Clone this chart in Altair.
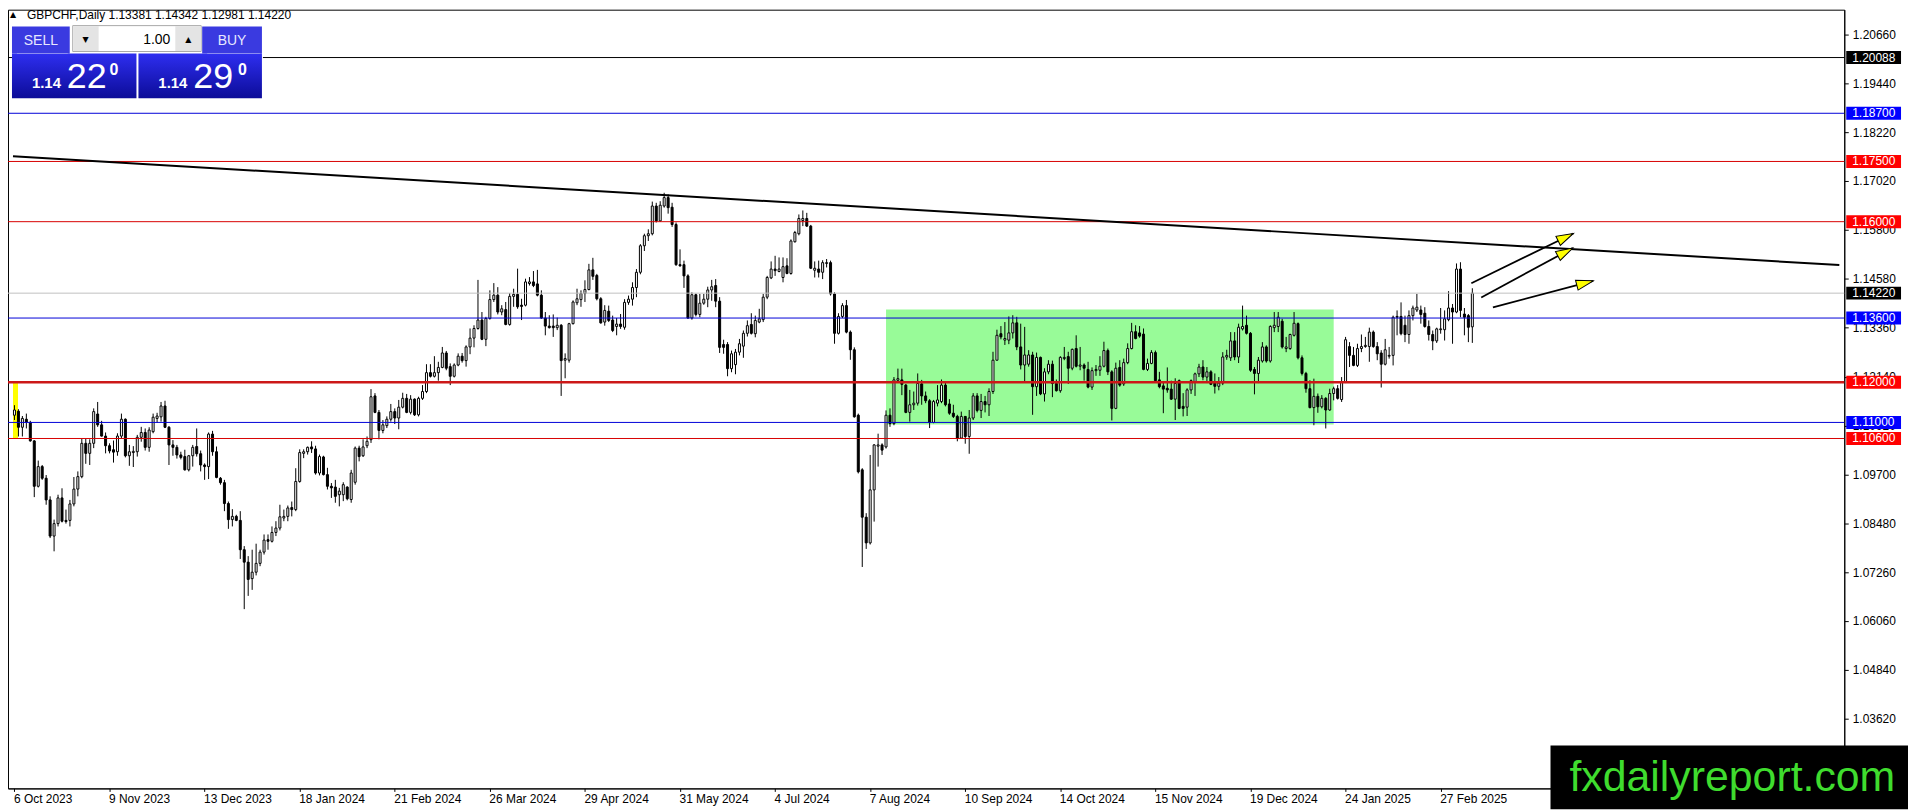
import json
import math
import pandas as pd
import altair as alt

# ---------------- data ----------------
symbol = "GBPCHF"
period = "Daily"

opens = [
    1.1118, 1.1128, 1.1088, 1.1108, 1.1100, 1.1054, 1.0941, 1.0990, 1.0961, 1.0907,
    1.0817, 1.0848, 1.0912, 1.0856, 1.0856, 1.0897, 1.0934, 1.0965, 1.1048, 1.1023,
    1.1048, 1.1121, 1.1094, 1.1066, 1.1042, 1.1032, 1.1027, 1.1066, 1.1108, 1.1017,
    1.1025, 1.1027, 1.1063, 1.1075, 1.1038, 1.1077, 1.1110, 1.1114, 1.1141, 1.1088,
    1.1044, 1.1038, 1.1019, 1.1015, 1.0982, 1.1017, 1.1040, 1.1022, 1.0994, 1.0990,
    1.1071, 1.1027, 1.0961, 1.0950, 1.0898, 1.0858, 1.0866, 1.0856, 1.0783, 1.0752,
    1.0711, 1.0727, 1.0749, 1.0777, 1.0808, 1.0804, 1.0826, 1.0837, 1.0862, 1.0866,
    1.0888, 1.0883, 1.0953, 1.1023, 1.1027, 1.1039, 1.1034, 1.0974, 1.1014, 1.0970,
    1.0941, 1.0939, 1.0920, 1.0920, 1.0939, 1.0908, 1.0951, 1.1036, 1.1017, 1.1042,
    1.1057, 1.1166, 1.1125, 1.1080, 1.1092, 1.1108, 1.1127, 1.1111, 1.1138, 1.1160,
    1.1125, 1.1158, 1.1119, 1.1160, 1.1177, 1.1224, 1.1215, 1.1224, 1.1237, 1.1273,
    1.1239, 1.1215, 1.1243, 1.1265, 1.1254, 1.1288, 1.1310, 1.1334, 1.1355, 1.1307,
    1.1359, 1.1406, 1.1417, 1.1375, 1.1381, 1.1344, 1.1414, 1.1419, 1.1392, 1.1392,
    1.1446, 1.1450, 1.1445, 1.1417, 1.1360, 1.1340, 1.1340, 1.1336, 1.1342, 1.1255,
    1.1255, 1.1346, 1.1398, 1.1406, 1.1421, 1.1431, 1.1480, 1.1466, 1.1408, 1.1350,
    1.1377, 1.1355, 1.1339, 1.1345, 1.1337, 1.1399, 1.1407, 1.1436, 1.1474, 1.1540,
    1.1565, 1.1570, 1.1639, 1.1602, 1.1639, 1.1660, 1.1636, 1.1593, 1.1493, 1.1493,
    1.1465, 1.1360, 1.1418, 1.1369, 1.1397, 1.1407, 1.1430, 1.1441, 1.1402, 1.1294,
    1.1294, 1.1234, 1.1244, 1.1275, 1.1290, 1.1322, 1.1344, 1.1321, 1.1350, 1.1356,
    1.1412, 1.1460, 1.1482, 1.1476, 1.1461, 1.1490, 1.1471, 1.1550, 1.1570, 1.1603,
    1.1608, 1.1589, 1.1479, 1.1482, 1.1474, 1.1496, 1.1498, 1.1420, 1.1322, 1.1364,
    1.1391, 1.1325, 1.1281, 1.1118, 1.0982, 1.0864, 1.0800, 1.0932, 1.1041, 1.1044,
    1.1039, 1.1118, 1.1097, 1.1205, 1.1206, 1.1193, 1.1125, 1.1144, 1.1148, 1.1196,
    1.1166, 1.1154, 1.1100, 1.1148, 1.1152, 1.1193, 1.1146, 1.1123, 1.1115, 1.1061,
    1.1115, 1.1065, 1.1111, 1.1166, 1.1130, 1.1152, 1.1144, 1.1177, 1.1255, 1.1321,
    1.1305, 1.1305, 1.1323, 1.1348, 1.1288, 1.1243, 1.1245, 1.1268, 1.1189, 1.1262,
    1.1171, 1.1226, 1.1245, 1.1197, 1.1179, 1.1259, 1.1264, 1.1235, 1.1284, 1.1240,
    1.1243, 1.1232, 1.1188, 1.1229, 1.1230, 1.1240, 1.1279, 1.1226, 1.1135, 1.1237,
    1.1196, 1.1249, 1.1284, 1.1326, 1.1323, 1.1320, 1.1232, 1.1247, 1.1274, 1.1206,
    1.1191, 1.1185, 1.1183, 1.1158, 1.1204, 1.1140, 1.1138, 1.1181, 1.1202, 1.1221,
    1.1238, 1.1213, 1.1226, 1.1198, 1.1190, 1.1198, 1.1263, 1.1261, 1.1303, 1.1263,
    1.1333, 1.1342, 1.1322, 1.1232, 1.1222, 1.1253, 1.1288, 1.1253, 1.1336, 1.1339,
    1.1352, 1.1284, 1.1284, 1.1317, 1.1346, 1.1261, 1.1222, 1.1184, 1.1137, 1.1165,
    1.1139, 1.1160, 1.1131, 1.1172, 1.1184, 1.1157, 1.1201, 1.1289, 1.1267, 1.1242,
    1.1284, 1.1289, 1.1289, 1.1325, 1.1289, 1.1273, 1.1245, 1.1265, 1.1267, 1.1362,
    1.1364, 1.1342, 1.1319, 1.1366, 1.1380, 1.1380, 1.1372, 1.1339, 1.1319, 1.1303,
    1.1331, 1.1331, 1.1356, 1.1385, 1.1375, 1.1482, 1.1370, 1.1366, 1.13381,
]

highs = [
    1.1143, 1.1133, 1.1116, 1.1122, 1.1104, 1.1056, 1.1005, 1.0994, 1.0969, 1.0916,
    1.0858, 1.0920, 1.0936, 1.0883, 1.0907, 1.0964, 1.0978, 1.1060, 1.1059, 1.1058,
    1.1135, 1.1151, 1.1104, 1.1075, 1.1048, 1.1055, 1.1073, 1.1122, 1.1110, 1.1044,
    1.1041, 1.1069, 1.1089, 1.1085, 1.1088, 1.1122, 1.1124, 1.1151, 1.1154, 1.1091,
    1.1056, 1.1044, 1.1027, 1.1032, 1.1019, 1.1044, 1.1085, 1.1030, 1.0998, 1.1075,
    1.1079, 1.1040, 1.0964, 1.0957, 1.0903, 1.0884, 1.0870, 1.0879, 1.0792, 1.0767,
    1.0783, 1.0798, 1.0783, 1.0821, 1.0821, 1.0841, 1.0854, 1.0895, 1.0883, 1.0893,
    1.0903, 1.0986, 1.1033, 1.1033, 1.1040, 1.1053, 1.1042, 1.1020, 1.1017, 1.0987,
    1.0949, 1.0957, 1.0937, 1.0951, 1.0941, 1.0982, 1.1040, 1.1042, 1.1058, 1.1065,
    1.1183, 1.1173, 1.1131, 1.1106, 1.1115, 1.1146, 1.1135, 1.1156, 1.1174, 1.1171,
    1.1168, 1.1160, 1.1164, 1.1193, 1.1245, 1.1245, 1.1265, 1.1251, 1.1288, 1.1278,
    1.1247, 1.1247, 1.1272, 1.1273, 1.1292, 1.1334, 1.1342, 1.1455, 1.1375, 1.1363,
    1.1429, 1.1447, 1.1437, 1.1392, 1.1400, 1.1422, 1.1433, 1.1483, 1.1408, 1.1458,
    1.1462, 1.1477, 1.1480, 1.1429, 1.1375, 1.1367, 1.1369, 1.1361, 1.1345, 1.1272,
    1.1348, 1.1404, 1.1433, 1.1429, 1.1454, 1.1495, 1.1510, 1.1470, 1.1412, 1.1392,
    1.1391, 1.1366, 1.1360, 1.1370, 1.1407, 1.1416, 1.1449, 1.1482, 1.1544, 1.1570,
    1.1581, 1.1650, 1.1647, 1.1651, 1.1672, 1.1668, 1.1647, 1.1598, 1.1531, 1.1503,
    1.1469, 1.1424, 1.1421, 1.1420, 1.1420, 1.1438, 1.1455, 1.1457, 1.1412, 1.1306,
    1.1300, 1.1279, 1.1283, 1.1308, 1.1329, 1.1354, 1.1372, 1.1366, 1.1383, 1.1420,
    1.1465, 1.1501, 1.1515, 1.1511, 1.1511, 1.1509, 1.1556, 1.1577, 1.1618, 1.1628,
    1.1622, 1.1592, 1.1501, 1.1503, 1.1504, 1.1507, 1.1503, 1.1424, 1.1372, 1.1397,
    1.1405, 1.1329, 1.1287, 1.1122, 1.0986, 1.0874, 1.1019, 1.1046, 1.1072, 1.1048,
    1.1130, 1.1135, 1.1213, 1.1234, 1.1234, 1.1196, 1.1181, 1.1177, 1.1222, 1.1206,
    1.1177, 1.1158, 1.1156, 1.1193, 1.1207, 1.1202, 1.1158, 1.1144, 1.1119, 1.1127,
    1.1116, 1.1131, 1.1173, 1.1173, 1.1171, 1.1166, 1.1185, 1.1276, 1.1331, 1.1340,
    1.1350, 1.1364, 1.1367, 1.1363, 1.1346, 1.1338, 1.1280, 1.1276, 1.1274, 1.1264,
    1.1235, 1.1255, 1.1254, 1.1207, 1.1265, 1.1288, 1.1276, 1.1284, 1.1317, 1.1288,
    1.1247, 1.1251, 1.1237, 1.1243, 1.1265, 1.1301, 1.1284, 1.1230, 1.1249, 1.1255,
    1.1259, 1.1297, 1.1348, 1.1342, 1.1340, 1.1334, 1.1259, 1.1280, 1.1279, 1.1226,
    1.1199, 1.1237, 1.1204, 1.1210, 1.1207, 1.1173, 1.1185, 1.1207, 1.1224, 1.1246,
    1.1255, 1.1238, 1.1230, 1.1222, 1.1213, 1.1275, 1.1281, 1.1325, 1.1325, 1.1346,
    1.1391, 1.1366, 1.1325, 1.1238, 1.1263, 1.1300, 1.1292, 1.1342, 1.1375, 1.1375,
    1.1358, 1.1313, 1.1321, 1.1375, 1.1349, 1.1267, 1.1226, 1.1205, 1.1209, 1.1172,
    1.1168, 1.1163, 1.1184, 1.1189, 1.1193, 1.1213, 1.1313, 1.1300, 1.1288, 1.1296,
    1.1319, 1.1313, 1.1336, 1.1329, 1.1300, 1.1280, 1.1308, 1.1288, 1.1366, 1.1379,
    1.1399, 1.1366, 1.1379, 1.1391, 1.1420, 1.1391, 1.1387, 1.1354, 1.1329, 1.1336,
    1.1385, 1.1379, 1.1427, 1.1395, 1.1496, 1.1499, 1.1385, 1.1370, 1.14342,
]

lows = [
    1.1106, 1.1065, 1.1065, 1.1085, 1.1052, 1.0914, 1.0938, 1.0957, 1.0895, 1.0812,
    1.0779, 1.0841, 1.0851, 1.0848, 1.0841, 1.0891, 1.0916, 1.0961, 1.0997, 1.0994,
    1.1036, 1.1089, 1.1065, 1.1023, 1.1023, 1.1000, 1.1017, 1.1060, 1.1013, 1.0992,
    1.0989, 1.1015, 1.1052, 1.1030, 1.1027, 1.1073, 1.1099, 1.1102, 1.1086, 1.0994,
    1.1017, 1.1010, 1.1008, 1.0980, 1.0978, 1.0990, 1.1015, 1.0978, 1.0957, 1.0959,
    1.1017, 1.0961, 1.0945, 1.0879, 1.0835, 1.0841, 1.0854, 1.0760, 1.0635, 1.0668,
    1.0683, 1.0719, 1.0742, 1.0771, 1.0783, 1.0801, 1.0817, 1.0831, 1.0854, 1.0854,
    1.0866, 1.0879, 1.0950, 1.1011, 1.1020, 1.1024, 1.0970, 1.0968, 1.0968, 1.0933,
    1.0912, 1.0900, 1.0891, 1.0904, 1.0906, 1.0900, 1.0945, 1.1003, 1.1014, 1.1036,
    1.1049, 1.1123, 1.1058, 1.1073, 1.1086, 1.1102, 1.1096, 1.1083, 1.1135, 1.1123,
    1.1120, 1.1116, 1.1115, 1.1156, 1.1173, 1.1212, 1.1212, 1.1204, 1.1235, 1.1230,
    1.1193, 1.1212, 1.1240, 1.1249, 1.1239, 1.1270, 1.1287, 1.1331, 1.1305, 1.1290,
    1.1356, 1.1400, 1.1369, 1.1367, 1.1342, 1.1341, 1.1388, 1.1383, 1.1355, 1.1389,
    1.1441, 1.1437, 1.1414, 1.1358, 1.1317, 1.1334, 1.1313, 1.1330, 1.1166, 1.1210,
    1.1249, 1.1344, 1.1392, 1.1388, 1.1400, 1.1429, 1.1455, 1.1404, 1.1346, 1.1341,
    1.1350, 1.1325, 1.1317, 1.1333, 1.1331, 1.1393, 1.1391, 1.1412, 1.1469, 1.1527,
    1.1552, 1.1566, 1.1598, 1.1600, 1.1635, 1.1620, 1.1587, 1.1490, 1.1488, 1.1435,
    1.1358, 1.1356, 1.1364, 1.1362, 1.1393, 1.1387, 1.1403, 1.1387, 1.1273, 1.1271,
    1.1215, 1.1225, 1.1220, 1.1267, 1.1261, 1.1314, 1.1319, 1.1312, 1.1347, 1.1350,
    1.1407, 1.1457, 1.1465, 1.1474, 1.1449, 1.1469, 1.1468, 1.1548, 1.1566, 1.1589,
    1.1587, 1.1482, 1.1461, 1.1461, 1.1457, 1.1486, 1.1416, 1.1296, 1.1319, 1.1360,
    1.1322, 1.1256, 1.1112, 1.0973, 1.0740, 1.0785, 1.0796, 1.0853, 1.0990, 1.1019,
    1.1035, 1.1089, 1.1093, 1.1201, 1.1168, 1.1123, 1.1102, 1.1131, 1.1142, 1.1144,
    1.1148, 1.1086, 1.1098, 1.1140, 1.1148, 1.1140, 1.1119, 1.1111, 1.1053, 1.1059,
    1.1047, 1.1022, 1.1106, 1.1125, 1.1111, 1.1125, 1.1116, 1.1171, 1.1254, 1.1307,
    1.1293, 1.1295, 1.1309, 1.1280, 1.1232, 1.1202, 1.1239, 1.1119, 1.1166, 1.1168,
    1.1152, 1.1220, 1.1163, 1.1177, 1.1174, 1.1255, 1.1196, 1.1230, 1.1237, 1.1230,
    1.1204, 1.1185, 1.1181, 1.1216, 1.1216, 1.1237, 1.1218, 1.1105, 1.1133, 1.1189,
    1.1191, 1.1245, 1.1282, 1.1307, 1.1311, 1.1230, 1.1228, 1.1245, 1.1202, 1.1185,
    1.1123, 1.1174, 1.1156, 1.1106, 1.1133, 1.1115, 1.1116, 1.1171, 1.1166, 1.1213,
    1.1205, 1.1198, 1.1193, 1.1172, 1.1180, 1.1193, 1.1256, 1.1253, 1.1255, 1.1248,
    1.1329, 1.1319, 1.1226, 1.1170, 1.1198, 1.1249, 1.1249, 1.1249, 1.1325, 1.1325,
    1.1284, 1.1275, 1.1281, 1.1314, 1.1257, 1.1217, 1.1174, 1.1135, 1.1093, 1.1124,
    1.1135, 1.1085, 1.1129, 1.1155, 1.1157, 1.1151, 1.1198, 1.1238, 1.1240, 1.1238,
    1.1275, 1.1286, 1.1251, 1.1286, 1.1255, 1.1187, 1.1242, 1.1259, 1.1242, 1.1317,
    1.1317, 1.1300, 1.1296, 1.1354, 1.1375, 1.1346, 1.1336, 1.1304, 1.1280, 1.1298,
    1.1321, 1.1304, 1.1352, 1.1296, 1.1372, 1.1362, 1.1317, 1.1300, 1.12981,
]

closes = [
    1.1131, 1.1088, 1.1110, 1.1101, 1.1054, 1.0941, 1.0990, 1.0961, 1.0907, 1.0817,
    1.0848, 1.0912, 1.0854, 1.0853, 1.0897, 1.0934, 1.0965, 1.1048, 1.1023, 1.1048,
    1.1127, 1.1094, 1.1066, 1.1042, 1.1029, 1.1026, 1.1066, 1.1108, 1.1017, 1.1027,
    1.1028, 1.1063, 1.1075, 1.1038, 1.1081, 1.1113, 1.1116, 1.1141, 1.1088, 1.1044,
    1.1038, 1.1019, 1.1013, 1.0982, 1.1017, 1.1038, 1.1022, 1.0994, 1.0990, 1.1071,
    1.1027, 1.0963, 1.0950, 1.0898, 1.0858, 1.0866, 1.0856, 1.0783, 1.0752, 1.0709,
    1.0727, 1.0749, 1.0777, 1.0807, 1.0804, 1.0826, 1.0837, 1.0865, 1.0866, 1.0887,
    1.0883, 1.0953, 1.1025, 1.1027, 1.1038, 1.1034, 1.0974, 1.1015, 1.0970, 1.0941,
    1.0937, 1.0916, 1.0929, 1.0945, 1.0910, 1.0974, 1.1036, 1.1015, 1.1039, 1.1053,
    1.1164, 1.1125, 1.1080, 1.1094, 1.1108, 1.1127, 1.1111, 1.1138, 1.1160, 1.1125,
    1.1158, 1.1119, 1.1160, 1.1177, 1.1224, 1.1215, 1.1224, 1.1237, 1.1273, 1.1235,
    1.1215, 1.1243, 1.1265, 1.1254, 1.1288, 1.1310, 1.1334, 1.1355, 1.1307, 1.1359,
    1.1406, 1.1417, 1.1375, 1.1383, 1.1344, 1.1414, 1.1419, 1.1388, 1.1389, 1.1450,
    1.1450, 1.1441, 1.1417, 1.1360, 1.1340, 1.1336, 1.1336, 1.1342, 1.1254, 1.1259,
    1.1346, 1.1400, 1.1408, 1.1421, 1.1431, 1.1480, 1.1464, 1.1408, 1.1348, 1.1379,
    1.1354, 1.1329, 1.1345, 1.1339, 1.1399, 1.1407, 1.1436, 1.1474, 1.1540, 1.1565,
    1.1570, 1.1639, 1.1602, 1.1641, 1.1660, 1.1635, 1.1593, 1.1493, 1.1490, 1.1465,
    1.1360, 1.1418, 1.1369, 1.1397, 1.1407, 1.1430, 1.1438, 1.1402, 1.1287, 1.1287,
    1.1234, 1.1271, 1.1275, 1.1296, 1.1322, 1.1341, 1.1322, 1.1354, 1.1358, 1.1412,
    1.1461, 1.1482, 1.1478, 1.1482, 1.1488, 1.1471, 1.1552, 1.1573, 1.1608, 1.1608,
    1.1589, 1.1484, 1.1484, 1.1474, 1.1498, 1.1498, 1.1420, 1.1322, 1.1364, 1.1391,
    1.1325, 1.1281, 1.1114, 1.0977, 1.0864, 1.0800, 1.0932, 1.1044, 1.1044, 1.1031,
    1.1118, 1.1097, 1.1206, 1.1209, 1.1195, 1.1125, 1.1144, 1.1148, 1.1197, 1.1166,
    1.1154, 1.1100, 1.1152, 1.1156, 1.1193, 1.1144, 1.1123, 1.1115, 1.1061, 1.1115,
    1.1065, 1.1111, 1.1166, 1.1130, 1.1152, 1.1144, 1.1177, 1.1255, 1.1317, 1.1313,
    1.1309, 1.1323, 1.1348, 1.1288, 1.1243, 1.1268, 1.1268, 1.1189, 1.1262, 1.1171,
    1.1226, 1.1245, 1.1197, 1.1179, 1.1262, 1.1262, 1.1235, 1.1282, 1.1240, 1.1243,
    1.1235, 1.1188, 1.1229, 1.1232, 1.1240, 1.1279, 1.1226, 1.1135, 1.1235, 1.1193,
    1.1249, 1.1284, 1.1326, 1.1309, 1.1315, 1.1232, 1.1247, 1.1274, 1.1204, 1.1189,
    1.1183, 1.1181, 1.1158, 1.1197, 1.1135, 1.1135, 1.1181, 1.1204, 1.1221, 1.1238,
    1.1213, 1.1226, 1.1195, 1.1190, 1.1198, 1.1263, 1.1267, 1.1303, 1.1263, 1.1337,
    1.1339, 1.1322, 1.1230, 1.1222, 1.1255, 1.1288, 1.1253, 1.1339, 1.1342, 1.1362,
    1.1288, 1.1288, 1.1319, 1.1347, 1.1261, 1.1222, 1.1184, 1.1137, 1.1165, 1.1139,
    1.1160, 1.1131, 1.1172, 1.1184, 1.1160, 1.1201, 1.1306, 1.1267, 1.1242, 1.1284,
    1.1289, 1.1292, 1.1325, 1.1289, 1.1271, 1.1245, 1.1281, 1.1267, 1.1362, 1.1364,
    1.1321, 1.1319, 1.1366, 1.1385, 1.1387, 1.1369, 1.1339, 1.1319, 1.1303, 1.1333,
    1.1333, 1.1358, 1.1385, 1.1375, 1.1482, 1.1379, 1.1362, 1.1337, 1.14220,
]

date_labels = [
    "6 Oct 2023", "9 Nov 2023", "13 Dec 2023", "18 Jan 2024", "21 Feb 2024",
    "26 Mar 2024", "29 Apr 2024", "31 May 2024", "4 Jul 2024", "7 Aug 2024",
    "10 Sep 2024", "14 Oct 2024", "15 Nov 2024", "19 Dec 2024", "24 Jan 2025",
    "27 Feb 2025",
]
label_every = 24

y_ticks = [1.2066, 1.1944, 1.1822, 1.1702, 1.1580, 1.1458, 1.1336, 1.1214,
           1.1092, 1.0970, 1.0848, 1.0726, 1.0606, 1.0484, 1.0362]

levels = [1.20088, 1.18700, 1.17500, 1.16000, 1.14220, 1.13600, 1.12000, 1.11000, 1.10600]
level_kind = ["black", "blue", "red", "red", "price", "blue", "redthick", "blue", "red"]

trend_x = [-0.375, 460.625]
trend_y = [1.1763, 1.1492]

zone_x = [220.0, 333.0]
zone_y = [1.1095, 1.1381]

marker_x = [-0.375, 0.9]
marker_y = [1.1060, 1.1200]

arrow_x0 = [367.75, 370.25, 373.2]
arrow_y0 = [1.14467, 1.14113, 1.13865]
arrow_x1 = [393.5, 393.35, 398.5]
arrow_y1 = [1.15707, 1.15345, 1.14527]

bid = 1.14220
ask = 1.14290
lot = "1.00"
watermark = "fxdailyreport.com"

# ---------------- styling ----------------
FONT = "Liberation Sans"
W, H = 1844, 782
X_DOMAIN = [-0.375, 460.625]
Y_DOMAIN = [1.018852, 1.212800]
PX_X = W / (X_DOMAIN[1] - X_DOMAIN[0])
PX_Y = H / (Y_DOMAIN[1] - Y_DOMAIN[0])

line_style = {
    "black": ("#000000", 1.0, "#000000"),
    "blue": ("#0000d8", 1.0, "#0000ff"),
    "red": ("#d80000", 1.0, "#ff0000"),
    "redthick": ("#cc1818", 2.5, "#ff0000"),
    "price": ("#c0c0c0", 1.0, "#000000"),
}

xs = alt.Scale(domain=X_DOMAIN, nice=False, zero=False)
ys = alt.Scale(domain=Y_DOMAIN, nice=False, zero=False)

label_expr = f"{json.dumps(date_labels)}[round(datum.value / {label_every})]"
xaxis = alt.Axis(
    values=list(range(0, len(opens), label_every)), labelExpr=label_expr,
    orient="bottom", labelAlign="left", labelFont=FONT, labelFontSize=12,
    labelColor="black", tickColor="black", tickSize=3, labelPadding=2,
    domainColor="black", grid=False, title=None, labelFlush=False,
    labelOverlap=False, labelOffset=-1, labelBound=False,
)
yaxis = alt.Axis(
    orient="right", values=y_ticks, format=".5f", labelFont=FONT,
    labelFontSize=12, labelColor="black", tickColor="black", tickSize=4,
    labelPadding=4, domainColor="black", grid=False, title=None,
    labelOverlap=False, labelBaseline="middle",
)


def X(f):
    return alt.X(f"{f}:Q", scale=xs, axis=xaxis)


def Y(f):
    return alt.Y(f"{f}:Q", scale=ys, axis=yaxis)


ONE = pd.DataFrame({"k": [0]})

layers = []

# zone rectangle & left marker
zone = pd.DataFrame({"x1": [zone_x[0]], "x2": [zone_x[1]], "y1": [zone_y[0]], "y2": [zone_y[1]]})
layers.append(alt.Chart(zone).mark_rect(color="#98fb98", opacity=1).encode(
    x=X("x1"), x2=alt.X2("x2"), y=Y("y1"), y2=alt.Y2("y2")))
mk = pd.DataFrame({"x1": [marker_x[0]], "x2": [marker_x[1]], "y1": [marker_y[0]], "y2": [marker_y[1]]})
layers.append(alt.Chart(mk).mark_rect(color="#ffff00", opacity=1).encode(
    x=X("x1"), x2=alt.X2("x2"), y=Y("y1"), y2=alt.Y2("y2")))

# candles
cdf = pd.DataFrame({"i": list(range(len(opens))), "o": opens, "h": highs, "l": lows, "c": closes})
cdf["lo"] = cdf[["l", "o", "c"]].min(axis=1)
cdf["hi"] = cdf[["h", "o", "c"]].max(axis=1)
layers.append(alt.Chart(cdf).mark_rule(color="black", strokeWidth=1).encode(
    x=X("i"), y=Y("lo"), y2=alt.Y2("hi")))
layers.append(alt.Chart(cdf).mark_bar(size=2, stroke="black", strokeWidth=1, orient="vertical", opacity=1).encode(
    x=X("i"), y=Y("o"), y2=alt.Y2("c"),
    fill=alt.condition("datum.c >= datum.o", alt.value("#ffffff"), alt.value("#000000"))))

# horizontal levels
for lvl, kind in zip(levels, level_kind):
    col, wdt, _ = line_style[kind]
    layers.append(alt.Chart(pd.DataFrame({"p": [lvl]})).mark_rule(color=col, strokeWidth=wdt).encode(y=Y("p")))

# trend line
tdf = pd.DataFrame({"x": trend_x, "y": trend_y})
layers.append(alt.Chart(tdf).mark_line(color="black", strokeWidth=2).encode(x=X("x"), y=Y("y")))

# arrows
adf = pd.DataFrame({"x0": arrow_x0, "y0": arrow_y0, "x1": arrow_x1, "y1": arrow_y1})
layers.append(alt.Chart(adf).mark_rule(color="black", strokeWidth=1.8).encode(
    x=X("x0"), y=Y("y0"), x2=alt.X2("x1"), y2=alt.Y2("y1")))
ARROW = "M0,0L-1,-0.3L-1,0.3Z"
for x0, y0, x1, y1 in zip(arrow_x0, arrow_y0, arrow_x1, arrow_y1):
    ang = math.degrees(math.atan2(-(y1 - y0) * PX_Y, (x1 - x0) * PX_X)) % 360
    layers.append(alt.Chart(pd.DataFrame({"x1": [x1], "y1": [y1]})).mark_point(
        shape=ARROW, size=1156, filled=True, fill="#ffff00", stroke="black",
        strokeWidth=1, opacity=1, angle=ang).encode(x=X("x1"), y=Y("y1")))

# price labels on the axis
BOX = "M-1,-0.236L1,-0.236L1,0.236L-1,0.236Z"
for lvl, kind in zip(levels, level_kind):
    _, _, bg = line_style[kind]
    d = pd.DataFrame({"p": [lvl]})
    layers.append(alt.Chart(d).mark_point(shape=BOX, size=3025, filled=True, fill=bg,
                                          strokeWidth=0, opacity=1).encode(x=alt.value(1873.5), y=Y("p")))
    layers.append(alt.Chart(d).mark_text(text=f"{lvl:.5f}", color="white", align="left",
                                         baseline="middle", font=FONT, fontSize=12).encode(
        x=alt.value(1852), y=Y("p")))


# ---------------- trading panel ----------------
def rect(x, x2, y, y2, fill, stroke=None):
    kw = dict(fill=fill, opacity=1)
    if stroke:
        kw.update(stroke=stroke, strokeWidth=1)
    return alt.Chart(ONE).mark_rect(**kw).encode(
        x=alt.value(x), x2=alt.value(x2), y=alt.value(y), y2=alt.value(y2))


def txt(s, x, y, size, color, align="left", baseline="alphabetic", weight="normal", font=FONT):
    return alt.Chart(ONE).mark_text(text=s, color=color, align=align, baseline=baseline,
                                    fontSize=size, fontWeight=weight, font=font).encode(
        x=alt.value(x), y=alt.value(y))


grad = alt.LinearGradient(gradient="linear", x1=0, x2=0, y1=0, y2=1, stops=[
    alt.GradientStop(color="#2e2ef0", offset=0),
    alt.GradientStop(color="#0c0c98", offset=1)])

layers.append(rect(4, 256, 16, 89, "#ffffff"))
layers.append(rect(4, 62, 17, 44, "#3a3ae0"))
layers.append(rect(195, 255, 17, 44, "#3a3ae0"))
layers.append(rect(65, 194, 16, 42, "#ffffff", stroke="#a8a8a8"))
layers.append(rect(65.5, 91, 16.5, 41.5, "#e4e4e4"))
layers.append(rect(168, 193.5, 16.5, 41.5, "#e4e4e4"))
layers.append(alt.Chart(ONE).mark_rect(fill=grad, opacity=1).encode(
    x=alt.value(4), x2=alt.value(129), y=alt.value(44), y2=alt.value(89)))
layers.append(alt.Chart(ONE).mark_rect(fill=grad, opacity=1).encode(
    x=alt.value(131), x2=alt.value(255), y=alt.value(44), y2=alt.value(89)))
layers.append(rect(9, 60, 43.5, 44.5, "#8c8cf0"))
layers.append(rect(200, 253, 43.5, 44.5, "#8c8cf0"))

bs = f"{bid:.5f}"
as_ = f"{ask:.5f}"
title = f"{symbol},{period} {opens[-1]:.5f} {highs[-1]:.5f} {lows[-1]:.5f} {closes[-1]:.5f}"
layers += [
    txt("\u25b2", 5, 5, 8, "black", align="center", baseline="middle", font="DejaVu Sans"),
    txt(title, 19, 5, 12, "black", baseline="middle"),
    txt("SELL", 33, 31, 14, "#e8e8ff", align="center", baseline="middle"),
    txt("BUY", 225, 31, 14, "#e8e8ff", align="center", baseline="middle"),
    txt(lot, 163, 30, 14, "black", align="right", baseline="middle"),
    txt("\u25bc", 78, 30, 8, "black", align="center", baseline="middle", font="DejaVu Sans"),
    txt("\u25b2", 181, 30, 8, "black", align="center", baseline="middle", font="DejaVu Sans"),
    txt(bs[:4], 24, 79, 15, "white", weight="bold"),
    txt(bs[4:6], 59, 79, 36, "white"),
    txt(bs[6], 102, 66, 16, "white", weight="bold"),
    txt(as_[:4], 151, 79, 15, "white", weight="bold"),
    txt(as_[4:6], 186, 79, 36, "white"),
    txt(as_[6], 231, 66, 16, "white", weight="bold"),
]

# watermark
layers.append(rect(1549, 1908, 739, 803, "#000000"))
layers.append(txt(watermark, 1568, 785, 43, "#3fdc2e"))

chart = alt.layer(*layers).properties(
    width=W, height=H,
    autosize=alt.AutoSizeParams(type="none"),
    padding={"left": 0, "top": 0, "right": 64, "bottom": 21},
    background="white",
).configure_view(stroke="black", strokeWidth=1)

chart.save("out.html", embed_options={"renderer": "svg", "actions": False})
